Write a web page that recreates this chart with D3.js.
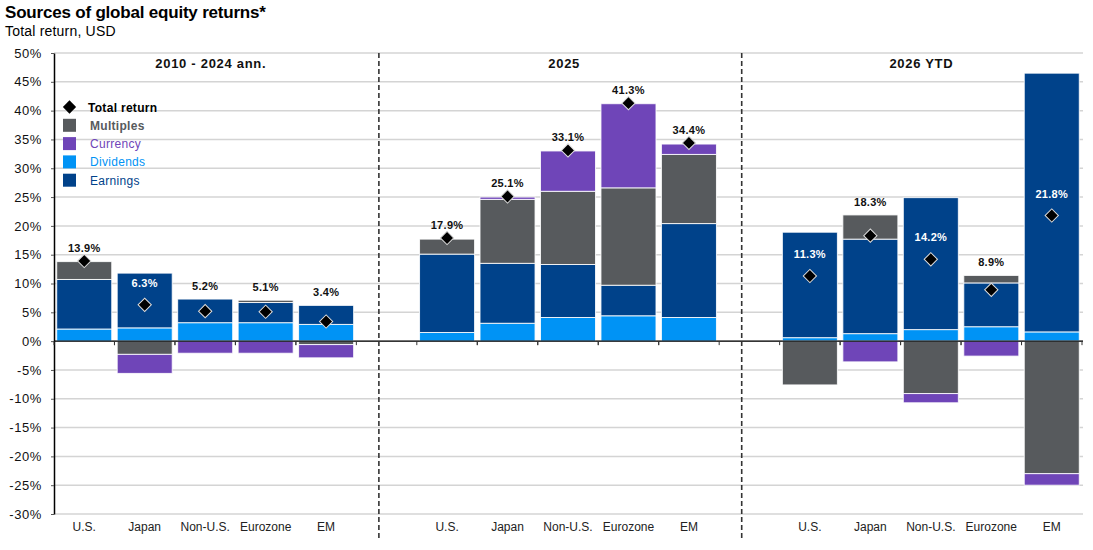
<!DOCTYPE html>
<html>
<head>
<meta charset="utf-8">
<script src="https://cdn.jsdelivr.net/npm/d3@7"></script>
<style>
  body { margin: 0; background: #fff; }
  svg { font-family: "Liberation Sans", Arial, sans-serif; display: block; }
</style>
</head>
<body>
<svg id="chart"></svg>
<script>
// data
const groups = ['2010 - 2024 ann.', '2025', '2026 YTD'];
const regions = ['U.S.', 'Japan', 'Non-U.S.', 'Eurozone', 'EM'];
const seriesNames = ['Dividends', 'Earnings', 'Multiples', 'Currency'];
const dividends = [2.1, 2.3, 3.2, 3.2, 2.9, 1.5, 3.1, 4.1, 4.4, 4.1, 0.6, 1.3, 2.0, 2.5, 1.6];
const earnings  = [8.6, 9.5, 4.1, 3.5, 3.3, 13.6, 10.4, 9.2, 5.3, 16.3, 18.3, 16.4, 22.9, 7.6, 44.9];
const multiples = [3.1, -2.3, 0, 0.4, -0.6, 2.6, 11.1, 12.7, 16.9, 12.0, -7.6, 4.2, -9.1, 1.3, -23.0];
const currency  = [0, -3.3, -2.1, -2.1, -2.3, 0, 0.4, 7.0, 14.6, 1.8, 0, -3.6, -1.6, -2.6, -2.0];
const totals    = [13.9, 6.3, 5.2, 5.1, 3.4, 17.9, 25.1, 33.1, 41.3, 34.4, 11.3, 18.3, 14.2, 8.9, 21.8];
const yTicks = d3.range(-30, 51, 5);

const colors = {
  Earnings: '#00428a',
  Dividends: '#0093f5',
  Multiples: '#575a5d',
  Currency: '#6f45b8'
};

// dimensions
const W = 1093, H = 550;
const margin = {top: 53, left: 54, right: 11};
const svg = d3.select('#chart').attr('width', W).attr('height', H);

// one slot per bar, with an empty slot between the groups
const slots = [];
groups.forEach((g, gi) => {
  regions.forEach(r => slots.push(g + '|' + r));
  if (gi < groups.length - 1) slots.push('gap' + gi);
});

const rows = [];
groups.forEach((g, gi) => {
  regions.forEach((r, ri) => {
    const i = gi * regions.length + ri;
    rows.push({key: g + '|' + r, group: g, region: r,
      Dividends: dividends[i], Earnings: earnings[i],
      Multiples: multiples[i], Currency: currency[i], total: totals[i]});
  });
});

const x = d3.scaleBand().domain(slots).range([margin.left, W - margin.right]).paddingInner(0.09).paddingOuter(0.045);
const y = d3.scaleLinear().domain([-30, 50]).range([514, 53]);

// title
svg.append('text').attr('x', 5).attr('y', 18)
  .style('font-size', '17px').style('font-weight', 'bold').style('letter-spacing', '-0.2px')
  .text('Sources of global equity returns*');
svg.append('text').attr('x', 5).attr('y', 36)
  .style('font-size', '14px').style('letter-spacing', '0.2px')
  .text('Total return, USD');

// gridlines
svg.append('g').selectAll('line').data(yTicks).join('line')
  .attr('x1', margin.left).attr('x2', W - margin.right + 1)
  .attr('y1', d => y(d)).attr('y2', d => y(d))
  .attr('stroke', '#d4d4d4').attr('stroke-width', 1.5);

// y axis
const yAxis = svg.append('g').attr('transform', 'translate(' + margin.left + ',0)')
  .call(d3.axisLeft(y).tickValues(yTicks).tickFormat(d => d + '%').tickSize(3).tickSizeOuter(0));
yAxis.select('.domain').attr('stroke', '#000').attr('stroke-width', 1.5);
yAxis.selectAll('.tick line').attr('stroke', '#555');
yAxis.selectAll('.tick text').attr('x', -12)
  .style('font-size', '13px').style('letter-spacing', '0.6px').style('font-family', '"Liberation Sans", Arial, sans-serif')
  .attr('fill', '#111');

// stacked bars
const stack = d3.stack().keys(seriesNames).offset(d3.stackOffsetDiverging);
const stacked = stack(rows);

svg.append('g').selectAll('g').data(stacked).join('g')
  .attr('fill', d => colors[d.key])
  .selectAll('rect').data(d => d.filter(s => s[1] !== s[0])).join('rect')
  .attr('x', d => x(d.data.key))
  .attr('width', x.bandwidth())
  .attr('y', d => y(Math.max(d[0], d[1])))
  .attr('height', d => Math.abs(y(d[0]) - y(d[1])))
  .attr('stroke', '#fff').attr('stroke-opacity', 0.85).attr('stroke-width', 1);

// zero line and x axis ticks
const zeroY = y(0);
svg.append('line').attr('x1', margin.left).attr('x2', W - margin.right + 1)
  .attr('y1', zeroY).attr('y2', zeroY).attr('stroke', '#000').attr('stroke-width', 1.2);
const tickXs = [];
rows.forEach(d => {
  const x0 = x(d.key) - x.step() * x.paddingInner() / 2;
  tickXs.push(x0, x0 + x.step());
});
svg.append('g').selectAll('line').data(tickXs).join('line')
  .attr('x1', d => d).attr('x2', d => d)
  .attr('y1', zeroY).attr('y2', zeroY + 4)
  .attr('stroke', '#333');

// x labels
svg.append('g').selectAll('text').data(rows).join('text')
  .attr('x', d => x(d.key) + x.bandwidth() / 2)
  .attr('y', 531)
  .attr('text-anchor', 'middle')
  .style('font-size', '12px').attr('fill', '#222')
  .text(d => d.region);

// group separators
const sepX = [0, 1].map(i => x('gap' + i) + x.bandwidth() * 0.36);
svg.append('g').selectAll('line').data(sepX).join('line')
  .attr('x1', d => d).attr('x2', d => d)
  .attr('y1', 53).attr('y2', 540)
  .attr('stroke', '#333').attr('stroke-width', 1.6).attr('stroke-dasharray', '5,3');

// group headers, between the separators and the bar centres
const bounds = [margin.left, sepX[0], sepX[1], W - margin.right];
svg.append('g').selectAll('text').data(groups).join('text')
  .attr('x', (d, i) => {
    const first = x(d + '|' + regions[0]);
    const last = x(d + '|' + regions[regions.length - 1]) + x.bandwidth();
    return ((bounds[i] + bounds[i + 1]) / 2 + (first + last) / 2) / 2;
  })
  .attr('y', 68)
  .attr('text-anchor', 'middle')
  .style('font-size', '13px').style('font-weight', 'bold').style('letter-spacing', '0.7px')
  .attr('fill', '#111')
  .text(d => d);

// total return diamonds and labels
const diamond = d3.symbol().type(d3.symbolSquare).size(88);
svg.append('g').selectAll('path').data(rows).join('path')
  .attr('d', diamond)
  .attr('transform', d => 'translate(' + (x(d.key) + x.bandwidth() / 2) + ',' + y(d.total) + ') rotate(45)')
  .attr('fill', '#000').attr('stroke', '#ddd').attr('stroke-width', 1);

svg.append('g').selectAll('text').data(rows).join('text')
  .each(function(d) {
    const top = d3.sum(seriesNames, k => Math.max(0, d[k]));
    d.inside = top - d.total > 5;
    d.ly = d.inside ? y(d.total) - 18 : Math.min(y(top), y(d.total)) - 9;
  })
  .attr('x', d => x(d.key) + x.bandwidth() / 2)
  .attr('y', d => d.ly)
  .attr('text-anchor', 'middle')
  .style('font-size', '11px').style('font-weight', 'bold').style('letter-spacing', '0.3px')
  .attr('fill', d => d.inside ? '#fff' : '#111')
  .text(d => d.total.toFixed(1) + '%');

// legend
const legendItems = [
  {name: 'Total return', color: '#000', text: '#000', bold: true},
  {name: 'Multiples', color: colors.Multiples, text: colors.Multiples, bold: true},
  {name: 'Currency', color: colors.Currency, text: colors.Currency},
  {name: 'Dividends', color: colors.Dividends, text: colors.Dividends},
  {name: 'Earnings', color: colors.Earnings, text: colors.Earnings}
];
const legend = svg.append('g').attr('transform', 'translate(63,107)');
const li = legend.selectAll('g').data(legendItems).join('g')
  .attr('transform', (d, i) => 'translate(0,' + (i * 18.3) + ')');
li.filter((d, i) => i === 0).append('path')
  .attr('d', diamond)
  .attr('transform', 'translate(6.5,0) rotate(45)')
  .attr('fill', '#000');
li.filter((d, i) => i > 0).append('rect')
  .attr('x', 0).attr('y', -6.5).attr('width', 13).attr('height', 13)
  .attr('fill', d => d.color);
li.append('text')
  .attr('x', (d, i) => i === 0 ? 25 : 27).attr('y', 4.5)
  .style('font-size', '12px').style('font-weight', d => d.bold ? 'bold' : 'normal')
  .style('letter-spacing', '0.3px')
  .attr('fill', d => d.text)
  .text(d => d.name);
</script>
</body>
</html>
